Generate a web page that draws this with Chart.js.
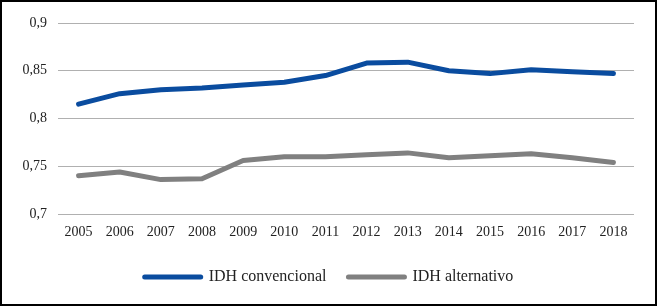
<!DOCTYPE html>
<html>
<head>
<meta charset="utf-8">
<script src="https://cdn.jsdelivr.net/npm/chart.js@4/dist/chart.umd.min.js"></script>
<style>
html,body{margin:0;padding:0;background:#fff;}
#wrap{width:658px;height:307px;position:relative;}
</style>
</head>
<body>
<div id="wrap"><canvas id="c" width="658" height="307"></canvas></div>
<script>
const years = ['2005','2006','2007','2008','2009','2010','2011','2012','2013','2014','2015','2016','2017','2018'];
const idhConvencional = [0.815,0.826,0.830,0.832,0.835,0.838,0.845,0.858,0.859,0.850,0.847,0.851,0.849,0.847];
const idhAlternativo = [0.740,0.744,0.736,0.737,0.756,0.760,0.760,0.762,0.764,0.759,0.761,0.763,0.759,0.754];
const seriesNames = ['IDH convencional','IDH alternativo'];
const yTicks = [0.7,0.75,0.8,0.85,0.9];

const frame = {
  id:'frame',
  beforeDraw(chart){
    const c = chart.ctx;
    c.save(); c.fillStyle='#fff'; c.fillRect(0,0,chart.width,chart.height); c.restore();
  },
  afterDraw(chart){
    const c = chart.ctx;
    c.save(); c.strokeStyle='#000'; c.lineWidth=2; c.strokeRect(1,1,655,304); c.restore();
  }
};

const serif = "'Liberation Serif', serif";
Chart.defaults.font.family = serif;
new Chart(document.getElementById('c'), {
  type:'line',
  data:{
    labels: years,
    datasets:[
      {label:seriesNames[0], data:idhConvencional, borderColor:'#0a4c9f', backgroundColor:'#0a4c9f', borderWidth:5, pointRadius:0, tension:0, borderCapStyle:'round', borderJoinStyle:'round', yAxisID:'y'},
      {label:seriesNames[1], data:idhAlternativo, borderColor:'#808080', backgroundColor:'#808080', borderWidth:5, pointRadius:0, tension:0, borderCapStyle:'round', borderJoinStyle:'round', yAxisID:'y'}
    ]
  },
  options:{
    responsive:false,
    animation:false,
    devicePixelRatio:1,
    layout:{padding:{left:10,right:10,top:23,bottom:12}},
    plugins:{
      legend:{
        position:'bottom',
        labels:{
          usePointStyle:true, pointStyle:'line', pointStyleWidth:56,
          font:{family:serif,size:16}, color:'#222', padding:22,
          generateLabels(chart){
            return chart.data.datasets.map((d,i)=>({text:d.label, fillStyle:d.borderColor, strokeStyle:d.borderColor, lineWidth:5, lineCap:'round', pointStyle:'line', datasetIndex:i, fontColor:'#222'}));
          }
        }
      },
      tooltip:{enabled:false}
    },
    scales:{
      x:{
        offset:true,
        grid:{display:false, drawTicks:false},
        border:{display:false},
        ticks:{font:{family:serif,size:14}, color:'#222', padding:10, maxRotation:0, autoSkip:false},
        afterFit(s){ s.height = 33; }
      },
      y:{
        min:0.7, max:0.9,
        afterBuildTicks(s){ s.ticks = yTicks.map(v=>({value:v})); },
        grid:{color:'#b0b0b0', lineWidth:1, drawTicks:false},
        border:{display:false},
        ticks:{font:{family:serif,size:14}, color:'#222', padding:11,
          callback(v){ return String(v).replace('.',','); }},
        afterFit(s){ s.width = 48; }
      },
      yRightSpacer:{
        position:'right', min:0, max:1,
        grid:{display:false, drawTicks:false},
        border:{display:false},
        ticks:{display:false},
        afterFit(s){ s.width = 14; }
      }
    }
  },
  plugins:[frame]
});
</script>
</body>
</html>
